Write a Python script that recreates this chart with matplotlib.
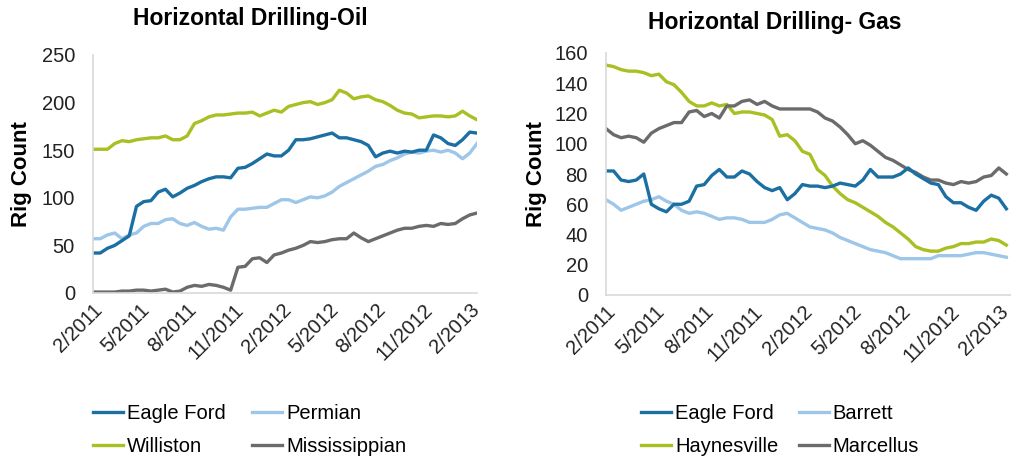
import matplotlib
matplotlib.use("Agg")
import matplotlib.pyplot as plt

plt.rcParams['font.family'] = ['Liberation Sans', 'DejaVu Sans']

# weekly index (every 2nd week sampled), week 0 = early Feb 2011
weeks = list(range(0, 108, 2))
tick_weeks = [0, 13, 26, 39, 52, 65, 78, 91, 104]
tick_labels = ["2/2011", "5/2011", "8/2011", "11/2011", "2/2012",
               "5/2012", "8/2012", "11/2012", "2/2013"]

# Horizontal Drilling - Oil
oil_eagle_ford = [42, 42, 47, 50, 55, 60, 91, 96, 97, 106, 109, 101, 105, 110, 113, 117, 120, 122,
                  122, 121, 131, 132, 136, 141, 146, 144, 144, 150, 161, 161, 162, 164, 166, 168,
                  163, 163, 161, 159, 155, 143, 147, 149, 147, 149, 148, 150, 150, 166, 163, 157,
                  155, 161, 169, 168]
oil_permian = [57, 57, 61, 63, 57, 61, 63, 70, 73, 73, 77, 78, 73, 71, 74, 70, 67, 68,
               66, 80, 88, 88, 89, 90, 90, 94, 98, 98, 95, 98, 101, 100, 102, 106,
               112, 116, 120, 124, 128, 133, 135, 139, 142, 146, 148, 147, 149, 150, 148, 150,
               147, 141, 147, 157]
oil_williston = [151, 151, 151, 157, 160, 159, 161, 162, 163, 163, 165, 161, 161, 165, 178, 181, 185, 187,
                 187, 188, 189, 189, 190, 186, 189, 192, 190, 196, 198, 200, 201, 198, 200, 203,
                 213, 210, 204, 206, 207, 203, 201, 197, 192, 189, 188, 184, 185, 186, 186, 185,
                 186, 191, 186, 182]
oil_mississippian = [1, 1, 1, 1, 2, 2, 3, 3, 2, 3, 4, 1, 2, 6, 8, 7, 9, 8,
                     6, 3, 27, 28, 36, 37, 32, 40, 42, 45, 47, 50, 54, 53, 54, 56,
                     57, 57, 63, 58, 54, 57, 60, 63, 66, 68, 68, 70, 71, 70, 73, 72,
                     73, 78, 82, 84]

# Horizontal Drilling - Gas
gas_eagle_ford = [82, 82, 76, 75, 76, 80, 60, 57, 55, 60, 60, 62, 72, 73, 79, 83, 78, 78,
                  82, 80, 75, 71, 69, 71, 63, 67, 73, 72, 72, 71, 72, 74, 73, 72,
                  76, 83, 78, 78, 78, 80, 84, 80, 77, 74, 73, 65, 61, 61, 58, 56,
                  62, 66, 64, 57]
gas_barrett = [63, 60, 56, 58, 60, 62, 63, 65, 62, 60, 56, 54, 55, 54, 52, 50, 51, 51,
               50, 48, 48, 48, 50, 53, 54, 51, 48, 45, 44, 43, 41, 38, 36, 34,
               32, 30, 29, 28, 26, 24, 24, 24, 24, 24, 26, 26, 26, 26, 27, 28,
               28, 27, 26, 25]
gas_haynesville = [152, 151, 149, 148, 148, 147, 145, 146, 141, 139, 134, 128, 125, 125, 127, 125, 126, 120,
                   121, 121, 120, 119, 116, 105, 106, 102, 95, 93, 83, 79, 72, 67, 63, 61,
                   58, 55, 52, 48, 45, 41, 37, 32, 30, 29, 29, 31, 32, 34, 34, 35,
                   35, 37, 36, 33]
gas_marcellus = [110, 106, 104, 105, 104, 101, 107, 110, 112, 114, 114, 121, 122, 118, 120, 117, 125, 125,
                 128, 129, 126, 128, 125, 123, 123, 123, 123, 123, 121, 117, 115, 111, 106, 100,
                 102, 99, 95, 91, 89, 86, 83, 81, 78, 76, 76, 74, 73, 75, 74, 75,
                 78, 79, 84, 80]

c_dark = "#1b6fa3"
c_light = "#9dc6e8"
c_green = "#a9bf22"
c_gray = "#6b6b6b"

fig = plt.figure(figsize=(10.11, 4.59), dpi=100)

ax1 = fig.add_axes([93 / 1011, 1 - 293 / 459, 384 / 1011, 238 / 459])
ax2 = fig.add_axes([606 / 1011, 1 - 295 / 459, 406 / 1011, 242 / 459])

lw = 2.4
ax1.plot(weeks, oil_williston, color=c_green, lw=lw, label="Williston")
ax1.plot(weeks, oil_mississippian, color=c_gray, lw=lw, label="Mississippian")
ax1.plot(weeks, oil_permian, color=c_light, lw=lw, label="Permian")
ax1.plot(weeks, oil_eagle_ford, color=c_dark, lw=lw, label="Eagle Ford")

ax2.plot(weeks, gas_barrett, color=c_light, lw=lw, label="Barrett")
ax2.plot(weeks, gas_haynesville, color=c_green, lw=lw, label="Haynesville")
ax2.plot(weeks, gas_marcellus, color=c_gray, lw=lw, label="Marcellus")
ax2.plot(weeks, gas_eagle_ford, color=c_dark, lw=lw, label="Eagle Ford")

ax1.set_ylim(0, 250)
ax1.set_yticks(range(0, 251, 50))
ax1.set_xlim(0, 106)
ax2.set_ylim(0, 160)
ax2.set_yticks(range(0, 161, 20))
ax2.set_xlim(0, 107.5)

for ax in (ax1, ax2):
    for s in ("top", "right"):
        ax.spines[s].set_visible(False)
    ax.spines["left"].set_color("#d9d9d9")
    ax.spines["bottom"].set_color("#d9d9d9")
    ax.spines["left"].set_linewidth(1.2)
    ax.spines["bottom"].set_linewidth(1.2)
    ax.set_xticks(tick_weeks)
    ax.set_xticklabels(tick_labels, rotation=45, ha="right", rotation_mode="anchor")
    ax.tick_params(axis="y", length=0, pad=13, labelsize=14.5, colors="#222222")
    ax.tick_params(axis="x", length=0, pad=5, labelsize=14.5, colors="#222222")
    ax.set_ylabel("Rig Count", fontsize=16, fontweight="bold")

ax1.yaxis.set_label_coords(-0.159, 0.5)
ax2.yaxis.set_label_coords(-0.145, 0.5)

fig.text(250 / 1011, 1 - 19 / 459, "Horizontal Drilling-Oil", ha="center", va="center",
         fontsize=16.5, fontweight="bold")
fig.text(775 / 1011, 1 - 22 / 459, "Horizontal Drilling- Gas", ha="center", va="center",
         fontsize=16.5, fontweight="bold")

h, l = ax1.get_legend_handles_labels()
order = [3, 0, 2, 1]
fig.legend([h[i] for i in order], [l[i] for i in order], ncol=2, frameon=False,
           loc="upper left", bbox_to_anchor=(93 / 1011, 1 - 404 / 459), borderpad=0,
           borderaxespad=0, handlelength=1.5, handletextpad=0.2, columnspacing=1.3,
           labelspacing=0.7, fontsize=14.5)
h, l = ax2.get_legend_handles_labels()
order = [3, 1, 0, 2]
fig.legend([h[i] for i in order], [l[i] for i in order], ncol=2, frameon=False,
           loc="upper left", bbox_to_anchor=(641 / 1011, 1 - 404 / 459), borderpad=0,
           borderaxespad=0, handlelength=1.5, handletextpad=0.2, columnspacing=1.0,
           labelspacing=0.7, fontsize=14.5)

fig.savefig("out.png", dpi=100)
